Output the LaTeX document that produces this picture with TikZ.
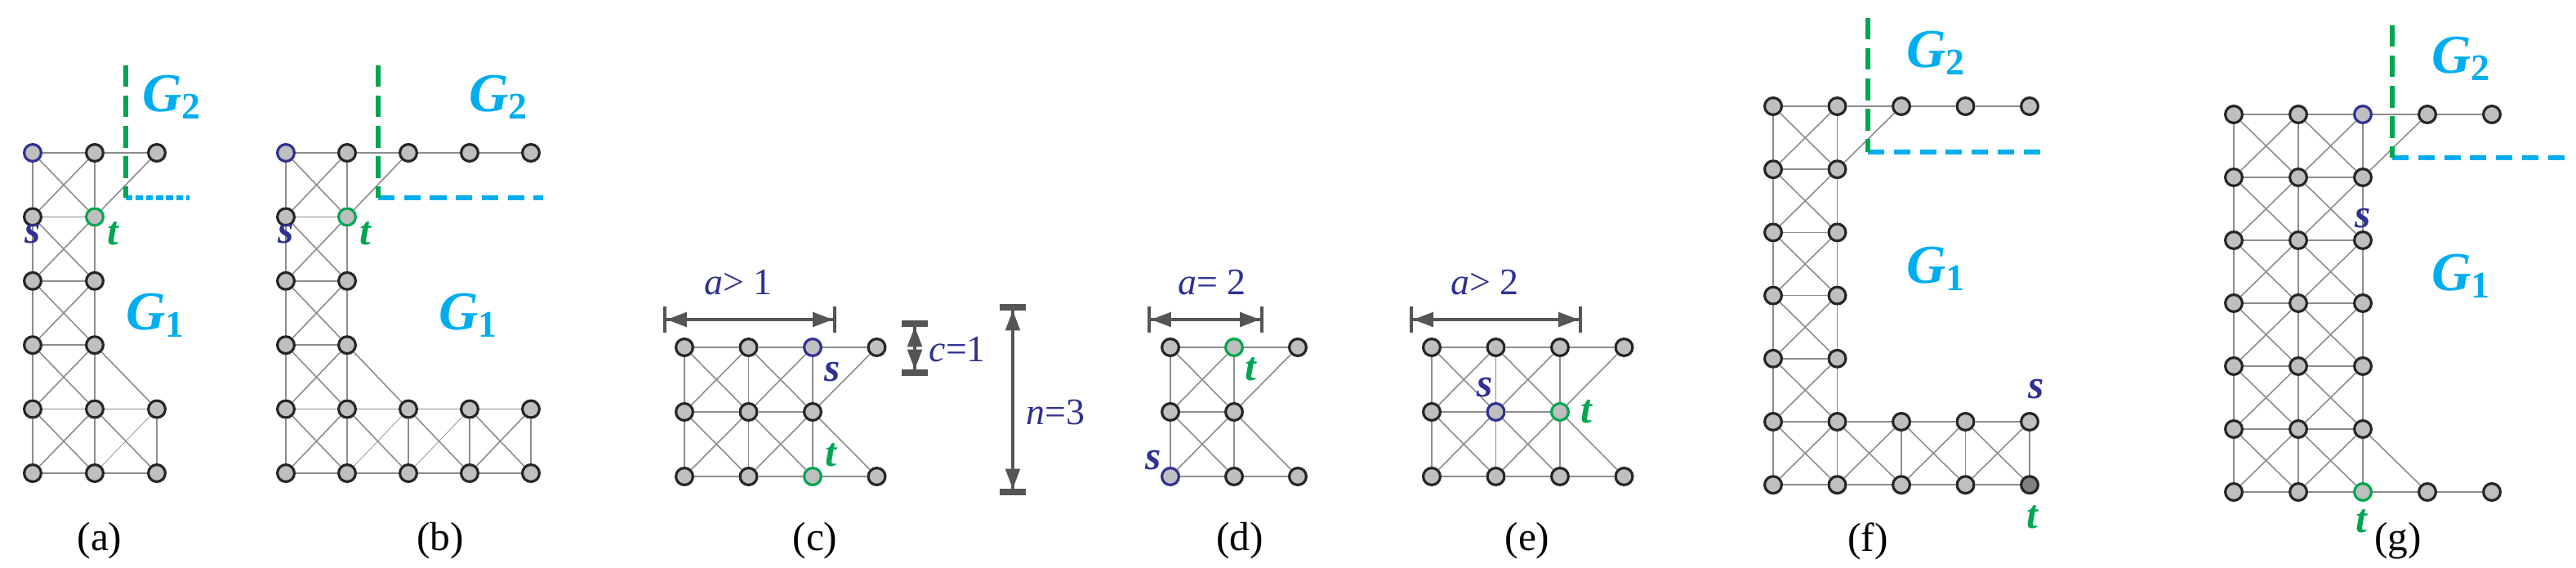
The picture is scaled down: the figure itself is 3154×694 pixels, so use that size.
\documentclass[tikz,border=0pt]{standalone}
\usepackage{fontspec}
\setmainfont{Liberation Serif}
\usetikzlibrary{arrows.meta}
\definecolor{sblue}{HTML}{2E3192}
\definecolor{tgreen}{HTML}{00A651}
\definecolor{gcyan}{HTML}{00AEEF}
\definecolor{edgegray}{HTML}{8C8C8C}
\definecolor{dimgray}{HTML}{555555}
\newcommand{\Glab}[1]{\fontsize{19}{19}\selectfont\bfseries\itshape G\raisebox{-0.3ex}{\upshape\fontsize{13}{13}\selectfont #1}}
\begin{document}
\begin{tikzpicture}[x=0.2835pt,y=-0.2835pt,
 v/.style={circle,draw=black!85,fill=black!25,line width=0.9pt,minimum size=5.9pt,inner sep=0pt},
 sv/.style={v,draw=sblue}, tv/.style={v,draw=tgreen}, dv/.style={v,fill=black!50},
 e/.style={draw=edgegray,line width=0.45pt},
 et/.style={draw=edgegray,line width=0.2pt},
 gl/.style={text=gcyan,inner sep=0pt},
 sl/.style={text=sblue,font=\fontsize{14}{14}\selectfont\bfseries\itshape,inner sep=0pt},
 tl/.style={text=tgreen,font=\fontsize{14}{14}\selectfont\bfseries\itshape,inner sep=0pt},
 captxt/.style={font=\fontsize{14}{14}\selectfont,inner sep=0pt},
 dl/.style={text=sblue,font=\fontsize{13}{13}\selectfont,inner sep=0pt},
 gdash/.style={draw=tgreen,line width=1.5pt,dash pattern=on 7.5pt off 3pt},
 bdash/.style={draw=gcyan,line width=1.5pt,dash pattern=on 5.7pt off 3.3pt},
 bdot/.style={draw=gcyan,line width=1.5pt,dash pattern=on 2.4pt off 1.1pt},
 dimh/.style={draw=dimgray,line width=1pt,{Bar[width=9pt,line width=1.2pt]Triangle[length=7pt,width=5pt]}-{Triangle[length=7pt,width=5pt]Bar[width=9pt,line width=1.2pt]}},
 dimv/.style={draw=dimgray,line width=1pt,{Bar[width=9pt,line width=2.2pt]Triangle[length=7pt,width=5pt]}-{Triangle[length=7pt,width=5pt]Bar[width=9pt,line width=2.2pt]}}]
\useasboundingbox (0,0) rectangle (3154,694);
% ---------- (a)
\foreach \i/\j in {1/0,2/0,0/1,0/2,1/2,0/3,1/3,0/4,1/4,2/4,0/5,1/5,2/5}
  \node[v] (A\i\j) at (40+76*\i,187+78.4*\j) {};
\node[sv] (A00) at (40,187) {};
\node[tv] (A11) at (116,265.4) {};
\foreach \p/\q in {00/10,10/20,01/11,02/12,03/13,04/14,14/24,05/15,15/25,
  00/01,01/02,02/03,03/04,04/05,10/11,11/12,12/13,13/14,14/15,24/25,
  00/11,10/01,01/12,11/02,02/13,12/03,03/14,13/04,04/15,14/05,11/20,13/24,14/25}
  \draw[e] (A\p) -- (A\q);
\draw[et] (A15) -- (A24);
\coordinate (a1) at (154,80); \coordinate (a2) at (154,242); \coordinate (a3) at (232,242);
\draw[bdot] (a2) -- (a3);
\draw[gdash] (a1) -- (a2);
\node[sl] (as) at ([yshift=-28]A00) {s};
\node[tl] (at) at ([shift={(22,20)}]A11) {t};
\node[gl] (aG2) at (210,119) {\Glab{2}};
\node[gl] (aG1) at (190,386) {\Glab{1}};
\node[captxt] (acap) at (122,662) {(a)};
% ---------- (b)
\foreach \i/\j in {1/0,2/0,3/0,4/0,0/1,0/2,1/2,0/3,1/3,0/4,1/4,2/4,3/4,4/4,0/5,1/5,2/5,3/5,4/5}
  \node[v] (B\i\j) at (350+75*\i,187+78.4*\j) {};
\node[sv] (B00) at (350,187) {};
\node[tv] (B11) at (425,265.4) {};
\foreach \p/\q in {00/10,10/20,20/30,30/40,01/11,02/12,03/13,04/14,14/24,24/34,34/44,05/15,15/25,25/35,35/45,
  00/01,01/02,02/03,03/04,04/05,10/11,11/12,12/13,13/14,14/15,24/25,34/35,44/45,
  00/11,10/01,01/12,11/02,02/13,12/03,03/14,13/04,04/15,14/05,11/20,13/24,14/25,24/35,34/45,35/44}
  \draw[e] (B\p) -- (B\q);
\draw[et] (B15) -- (B24); \draw[et] (B25) -- (B34);
\coordinate (b1) at (463,80); \coordinate (b2) at (463,242); \coordinate (b3) at (665,242);
\draw[bdash] (b2) -- (b3);
\draw[gdash] (b1) -- (b2);
\node[sl] (bs) at ([yshift=-28]B00) {s};
\node[tl] (bt) at ([shift={(22,20)}]B11) {t};
\node[gl] (bG2) at (610,119) {\Glab{2}};
\node[gl] (bG1) at (573,386) {\Glab{1}};
\node[captxt] (bcap) at (539,662) {(b)};
% ---------- (c)
\foreach \i/\j in {0/0,1/0,3/0,0/1,1/1,2/1,0/2,1/2,3/2}
  \node[v] (C\i\j) at (838+78.5*\i,425+79*\j) {};
\node[sv] (C20) at (995,425) {};
\node[tv] (C22) at (995,583) {};
\foreach \p/\q in {00/10,10/20,20/30,01/11,11/21,02/12,12/22,22/32,00/01,01/02,10/11,11/12,20/21,21/22,
  00/11,10/01,10/21,20/11,01/12,11/02,11/22,21/12,30/21,21/32}
  \draw[e] (C\p) -- (C\q);
\node[sl] (cs) at ([shift={(24,30)}]C20) {s};
\node[tl] (ct) at ([shift={(22,-26)}]C22) {t};
\coordinate (ca1) at (812,391); \coordinate (ca2) at (1024,391);
\draw[dimh] (ca1) -- (ca2);
\node[dl] (cal) at (904,346) {\itshape a\upshape> 1};
\coordinate (cc1) at (1120,392); \coordinate (cc2) at (1120,460);
\draw[dimv] (cc1) -- (cc2);
\node[dl,anchor=west] (ccl) at (1137,428) {\itshape c\upshape=1};
\coordinate (cn1) at (1240,372); \coordinate (cn2) at (1240,606);
\draw[dimv] (cn1) -- (cn2);
\node[dl,anchor=west] (cnl) at (1256,505) {\itshape n\upshape=3};
\node[captxt] (ccap) at (998,662) {(c)};
% ---------- (d)
\foreach \i/\j in {0/0,2/0,0/1,1/1,1/2,2/2}
  \node[v] (D\i\j) at (1433+78*\i,425+79*\j) {};
\node[tv] (D10) at (1511,425) {};
\node[sv] (D02) at (1433,583) {};
\foreach \p/\q in {00/10,10/20,01/11,02/12,12/22,00/01,01/02,10/11,11/12,00/11,10/01,01/12,11/02,20/11,11/22}
  \draw[e] (D\p) -- (D\q);
\node[tl] (dt) at ([shift={(20,27)}]D10) {t};
\node[sl] (ds) at ([shift={(-21,-20)}]D02) {s};
\coordinate (da1) at (1405,391); \coordinate (da2) at (1547,391);
\draw[dimh] (da1) -- (da2);
\node[dl] (dal) at (1484,346) {\itshape a\upshape= 2};
\node[captxt] (dcap) at (1518,662) {(d)};
% ---------- (e)
\foreach \i/\j in {0/0,1/0,2/0,3/0,0/1,0/2,1/2,2/2,3/2}
  \node[v] (E\i\j) at (1753+78.5*\i,425+79*\j) {};
\node[sv] (E11) at (1831.5,504) {};
\node[tv] (E21) at (1910,504) {};
\foreach \p/\q in {00/10,10/20,20/30,01/11,11/21,02/12,12/22,22/32,00/01,01/02,10/11,11/12,20/21,21/22,
  00/11,10/01,10/21,20/11,01/12,11/02,11/22,21/12,30/21,21/32}
  \draw[e] (E\p) -- (E\q);
\node[sl] (es) at ([shift={(-13,-30)}]E11) {s};
\node[tl] (et) at ([shift={(32,0)}]E21) {t};
\coordinate (ea1) at (1726,391); \coordinate (ea2) at (1937,391);
\draw[dimh] (ea1) -- (ea2);
\node[dl] (eal) at (1818,346) {\itshape a\upshape> 2};
\node[captxt] (ecap) at (1870,662) {(e)};
% ---------- (f)
\foreach \i/\j in {0/0,1/0,2/0,3/0,4/0,0/1,1/1,0/2,1/2,0/3,1/3,0/4,1/4,0/5,1/5,2/5,3/5,4/5,0/6,1/6,2/6,3/6}
  \node[v] (F\i\j) at (2171+78.5*\i,130+77.2*\j) {};
\node[dv] (F46) at (2485,593.2) {};
\foreach \p/\q in {00/10,10/20,20/30,30/40,01/11,02/12,03/13,04/14,05/15,15/25,25/35,35/45,06/16,16/26,26/36,36/46,
  00/01,01/02,02/03,03/04,04/05,05/06,10/11,11/12,12/13,13/14,14/15,15/16,25/26,35/36,45/46,
  00/11,10/01,01/12,11/02,02/13,12/03,03/14,13/04,04/15,14/05,05/16,15/06,20/11,
  15/26,16/25,25/36,26/35,35/46,36/45}
  \draw[e] (F\p) -- (F\q);
\coordinate (f1) at (2287,22); \coordinate (f2) at (2287,186); \coordinate (f3) at (2502,186);
\draw[bdash] (f2) -- (f3);
\draw[gdash] (f1) -- (f2);
\node[sl] (fs) at ([shift={(8,-40)}]F45) {s};
\node[tl] (ft) at ([shift={(3,40)}]F46) {t};
\node[gl] (fG2) at (2370,65) {\Glab{2}};
\node[gl] (fG1) at (2370,329) {\Glab{1}};
\node[captxt] (fcap) at (2287,662) {(f)};
% ---------- (g)
\foreach \i/\j in {0/0,1/0,3/0,4/0,0/1,1/1,2/1,0/2,1/2,2/2,0/3,1/3,2/3,0/4,1/4,2/4,0/5,1/5,2/5,0/6,1/6,3/6,4/6}
  \node[v] (G\i\j) at (2735+79*\i,140+77*\j) {};
\node[sv] (G20) at (2893,140) {};
\node[tv] (G26) at (2893,602) {};
\foreach \p/\q in {00/10,10/20,20/30,30/40,01/11,11/21,02/12,12/22,03/13,13/23,04/14,14/24,05/15,15/25,06/16,16/26,26/36,36/46,
  00/01,01/02,02/03,03/04,04/05,05/06,10/11,11/12,12/13,13/14,14/15,15/16,20/21,21/22,22/23,23/24,24/25,25/26,
  00/11,10/01,01/12,11/02,02/13,12/03,03/14,13/04,04/15,14/05,05/16,15/06,
  10/21,20/11,11/22,21/12,12/23,22/13,13/24,23/14,14/25,24/15,15/26,25/16,30/21,25/36}
  \draw[e] (G\p) -- (G\q);
\coordinate (g1) at (2929,31); \coordinate (g2) at (2929,193); \coordinate (g3) at (3150,193);
\draw[bdash] (g2) -- (g3);
\draw[gdash] (g1) -- (g2);
\node[sl] (gs) at ([yshift=-36]G20) {s};
\node[tl] (gt) at ([shift={(-2,36)}]G26) {t};
\node[gl] (gG2) at (3013,72) {\Glab{2}};
\node[gl] (gG1) at (3013,338) {\Glab{1}};
\node[captxt] (gcap) at (2936,662) {(g)};
\end{tikzpicture}
\end{document}
